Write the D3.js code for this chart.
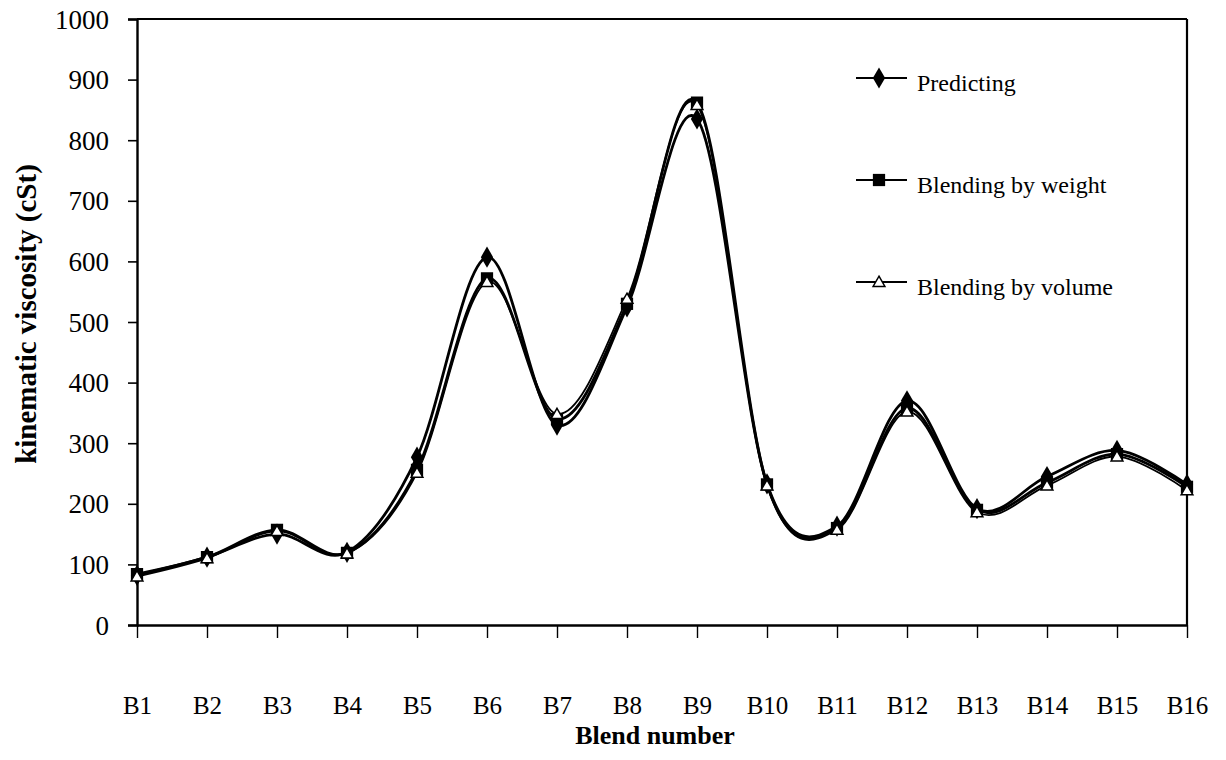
<!DOCTYPE html>
<html><head><meta charset="utf-8">
<script src="https://cdn.jsdelivr.net/npm/d3@7"></script>
<style>body{margin:0;background:#fff}svg{display:block}text{font-family:"Liberation Serif","Times New Roman",serif;fill:#000}</style>
</head><body><svg id="c" width="1226" height="760"></svg>
<script>
const categories = ["B1","B2","B3","B4","B5","B6","B7","B8","B9","B10","B11","B12","B13","B14","B15","B16"];
const predicting = [82,112,150,120,277,607,330,525,835,233,163,370,192,245,288,232];
const byWeight   = [84,112,157,119,256,572,340,530,862,232,160,358,190,235,282,228];
const byVolume   = [80,110,155,118,251,566,348,538,858,230,157,352,186,230,278,222];
const yTicks = [0,100,200,300,400,500,600,700,800,900,1000];
const seriesNames = ["Predicting","Blending by weight","Blending by volume"];

const svg = d3.select("#c");
const L = 137, R = 1187, T = 19, B = 625;
const x = d3.scalePoint().domain(categories).range([L, R]);
const y = d3.scaleLinear().domain([0, 1000]).range([B, T]);

// frame
svg.append("line").attr("x1",L).attr("x2",R).attr("y1",T).attr("y2",T).attr("stroke","#000").attr("stroke-width",2.2);
svg.append("line").attr("x1",R).attr("x2",R).attr("y1",T).attr("y2",B).attr("stroke","#000").attr("stroke-width",2.2);

// y axis
const ya = svg.append("g").attr("transform",`translate(${L},0)`)
  .call(d3.axisLeft(y).tickValues(yTicks).tickSize(9).tickPadding(19).tickFormat(d3.format("d")));
ya.select(".domain").attr("stroke-width",2.4);
ya.selectAll(".tick line").attr("stroke-width",1.6);
ya.selectAll("text").attr("font-size",27).attr("font-family","Liberation Serif").attr("dy","0.34em");

// x axis
const xa = svg.append("g").attr("transform",`translate(0,${B})`)
  .call(d3.axisBottom(x).tickSize(13).tickSizeOuter(0));
xa.select(".domain").attr("stroke-width",2.4);
xa.selectAll(".tick line").attr("stroke-width",1.4);
xa.selectAll("text").attr("font-size",25).attr("font-family","Liberation Serif").attr("y",89).attr("dy",0);

// titles
svg.append("text").attr("transform","translate(36,314) rotate(-90)").attr("text-anchor","middle")
  .attr("font-size",29).attr("font-weight","bold").text("kinematic viscosity (cSt)");
svg.append("text").attr("x",655).attr("y",744).attr("text-anchor","middle")
  .attr("font-size",26).attr("font-weight","bold").text("Blend number");

const line = d3.line().x((d,i)=>x(categories[i])).y(d=>y(d)).curve(d3.curveCardinal.tension(0));
const data = [predicting, byWeight, byVolume];
const widths = [2.8, 2.8, 1.8];
data.forEach((s,k)=>{
  svg.append("path").attr("d",line(s)).attr("fill","none").attr("stroke","#000").attr("stroke-width",widths[k]);
});

const diamond = d3.symbol().type(d3.symbolDiamond).size(130);
const square = d3.symbol().type(d3.symbolSquare).size(150);
const tri = d3.symbol().type(d3.symbolTriangle).size(60);

function drawMarker(g, k, cx, cy){
  if(k===0) g.append("path").attr("d",diamond()).attr("transform",`translate(${cx},${cy})`).attr("fill","#000");
  else if(k===1) g.append("path").attr("d",square()).attr("transform",`translate(${cx},${cy})`).attr("fill","#000");
  else g.append("path").attr("d",tri()).attr("transform",`translate(${cx},${cy+1})`).attr("fill","#fff").attr("stroke","#000").attr("stroke-width",1.5);
}
const mg = svg.append("g");
data.forEach((s,k)=>{
  s.forEach((v,i)=>drawMarker(mg,k,x(categories[i]),y(v)));
});

// legend
const legY = [78, 180, 282];
seriesNames.forEach((n,k)=>{
  svg.append("line").attr("x1",856).attr("x2",907).attr("y1",legY[k]).attr("y2",legY[k]).attr("stroke","#000").attr("stroke-width",2);
  drawMarker(svg,k,879,legY[k]);
  svg.append("text").attr("x",917).attr("y",legY[k]+13).attr("font-size",24).text(n);
});
</script></body></html>
